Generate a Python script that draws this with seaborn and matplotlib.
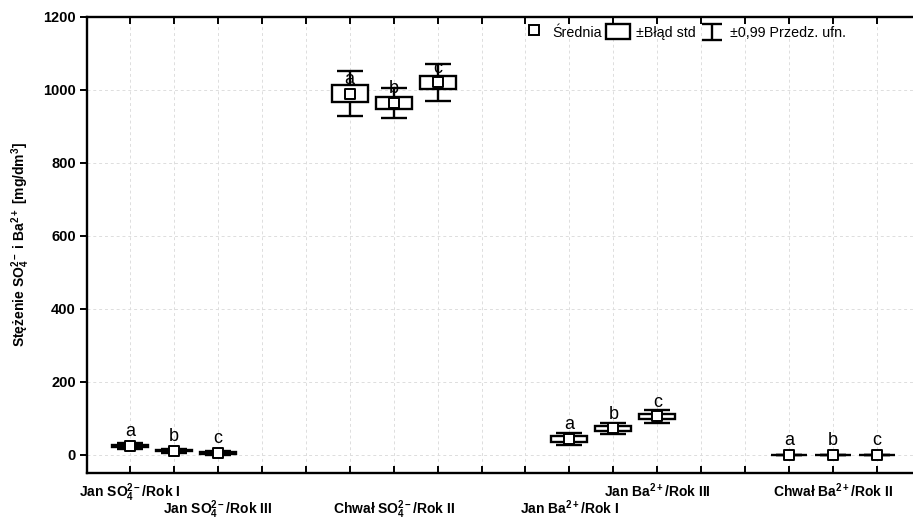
import numpy as np
import pandas as pd
import matplotlib.pyplot as plt
import seaborn as sns
from matplotlib.lines import Line2D
from matplotlib.patches import Rectangle
from matplotlib.legend_handler import HandlerBase

# data (mean, +-standard error, +-0.99 confidence interval)
groups = ["Jan SO4", "Chwał SO4", "Jan Ba", "Chwał Ba"]
years = ["Rok I", "Rok II", "Rok III"]
means = [25, 11, 5, 990, 964, 1021, 44, 72, 105, 0.3, 0.2, 0.2]
std_err = [3, 2, 2, 24, 17, 18, 8, 7, 8, 0.1, 0.1, 0.1]
ci_99 = [8, 5, 5, 62, 41, 50, 16, 14, 17, 0.3, 0.3, 0.3]
letters = ["a", "b", "c", "a", "b", "c", "a", "b", "c", "a", "b", "c"]

so4 = r"SO$_\mathbf{4}^\mathbf{2-}$"
ba = r"Ba$^\mathbf{2+}$"
# only some labels are printed (staggered in two rows like the original)
tick_labels = [
    f"Jan {so4}/Rok I", "", f"\nJan {so4}/Rok III",
    "", f"\nChwał {so4}/Rok II", "",
    f"\nJan {ba}/Rok I", "", f"Jan {ba}/Rok III",
    "", f"Chwał {ba}/Rok II", "",
]

df = pd.DataFrame({
    "group": np.repeat(groups, 3),
    "year": years * 4,
    "mean": means,
    "se": std_err,
    "ci": ci_99,
    "letter": letters,
})
# 3 boxes per group with two empty slots between groups
df["slot"] = [g * 5 + k for g in range(4) for k in range(3)]

sns.set_style("ticks")
plt.rcParams["font.family"] = ["Liberation Sans", "DejaVu Sans"]
plt.rcParams["mathtext.fontset"] = "custom"
plt.rcParams["mathtext.rm"] = "Liberation Sans"
plt.rcParams["mathtext.bf"] = "Liberation Sans:bold"
plt.rcParams["mathtext.it"] = "Liberation Sans:italic"
for key in ["text.color", "axes.labelcolor", "xtick.color", "ytick.color"]:
    plt.rcParams[key] = "black"


class WhiskerGlyph:
    pass


class WhiskerHandler(HandlerBase):
    # draws the "I" shaped whisker symbol used in the legend
    def create_artists(self, legend, orig_handle, xdescent, ydescent, width, height,
                       fontsize, trans):
        cx = width / 2 - xdescent
        half_w = width * 0.42
        top = height * 1.0 - ydescent
        bot = -ydescent - height * 0.05
        segs = [([cx - half_w, cx + half_w], [top, top]),
                ([cx, cx], [bot, top]),
                ([cx - half_w, cx + half_w], [bot, bot])]
        arts = []
        for xs, ys in segs:
            ln = Line2D(xs, ys, color="black", linewidth=1.7, solid_capstyle="butt")
            ln.set_transform(trans)
            arts.append(ln)
        return arts


fig = plt.figure(figsize=(9.13, 5.18), dpi=100)
ax = fig.add_axes([87 / 913, 1 - 473 / 518, 1 - 87 / 913, (473 - 17) / 518])

# whiskers (+-0.99 CI)
ax.errorbar(df["slot"], df["mean"], yerr=df["ci"], fmt="none", ecolor="black",
            elinewidth=1.7, capsize=9.5, capthick=1.7, zorder=2)
# boxes (+-SE)
ax.bar(df["slot"], 2 * df["se"], bottom=df["mean"] - df["se"], width=0.82,
       color="white", edgecolor="black", linewidth=1.7, zorder=3)
# means
sns.scatterplot(data=df, x="slot", y="mean", marker="s", s=50, color="white",
                edgecolor="black", linewidth=1.4, zorder=4, ax=ax, legend=False)

for _, row in df.iterrows():
    ax.annotate(row["letter"], (row["slot"], row["mean"]), xytext=(0, 7),
                textcoords="offset points", ha="center", va="baseline",
                fontsize=13, color="black", zorder=5)

ax.set_xlim(-0.98, 17.82)
ax.set_ylim(-50, 1200)
ax.set_xticks(np.arange(18))
labels18 = [""] * 18
for s, lab in zip(df["slot"], tick_labels):
    labels18[s] = lab
ax.set_xticklabels(labels18, fontweight="bold", fontsize=10)
ax.set_yticks(np.arange(0, 1201, 200))
ax.set_yticklabels([str(v) for v in range(0, 1201, 200)], fontweight="bold", fontsize=10.5)
ax.set_xlabel("")
ax.set_ylabel(r"Stężenie SO$_\mathbf{4}^\mathbf{2-}$ i Ba$^\mathbf{2+}$ [mg/dm$^\mathbf{3}$]",
              fontweight="bold", fontsize=10, labelpad=8)

ax.grid(True, linestyle=(0, (3, 3)), color="#dddddd", linewidth=0.7, zorder=0)
ax.set_axisbelow(True)
for side in ["left", "top", "bottom"]:
    ax.spines[side].set_linewidth(1.7)
    ax.spines[side].set_color("black")
ax.spines["right"].set_visible(False)
ax.tick_params(axis="x", which="both", direction="in", top=True, bottom=True,
               length=5, width=1.4, pad=6)
ax.tick_params(axis="y", direction="out", length=5, width=1.4, pad=3)

# legend
handles = [
    Line2D([], [], marker="s", linestyle="none", markersize=7, markerfacecolor="white",
           markeredgecolor="black", markeredgewidth=1.4),
    Rectangle((0, 0), 1, 1, facecolor="white", edgecolor="black", linewidth=1.7),
    WhiskerGlyph(),
]
ax.legend(handles, ["Średnia", "±Błąd std", "±0,99 Przedz. ufn."], ncol=3,
          frameon=False, fontsize=10.3, loc="center",
          bbox_to_anchor=(684 / 913, 1 - 32 / 518), bbox_transform=fig.transFigure,
          handlelength=1.7, handleheight=1.2, handletextpad=0.4, columnspacing=0.3,
          handler_map={WhiskerGlyph: WhiskerHandler()})

fig.savefig("out.png", dpi=100)
